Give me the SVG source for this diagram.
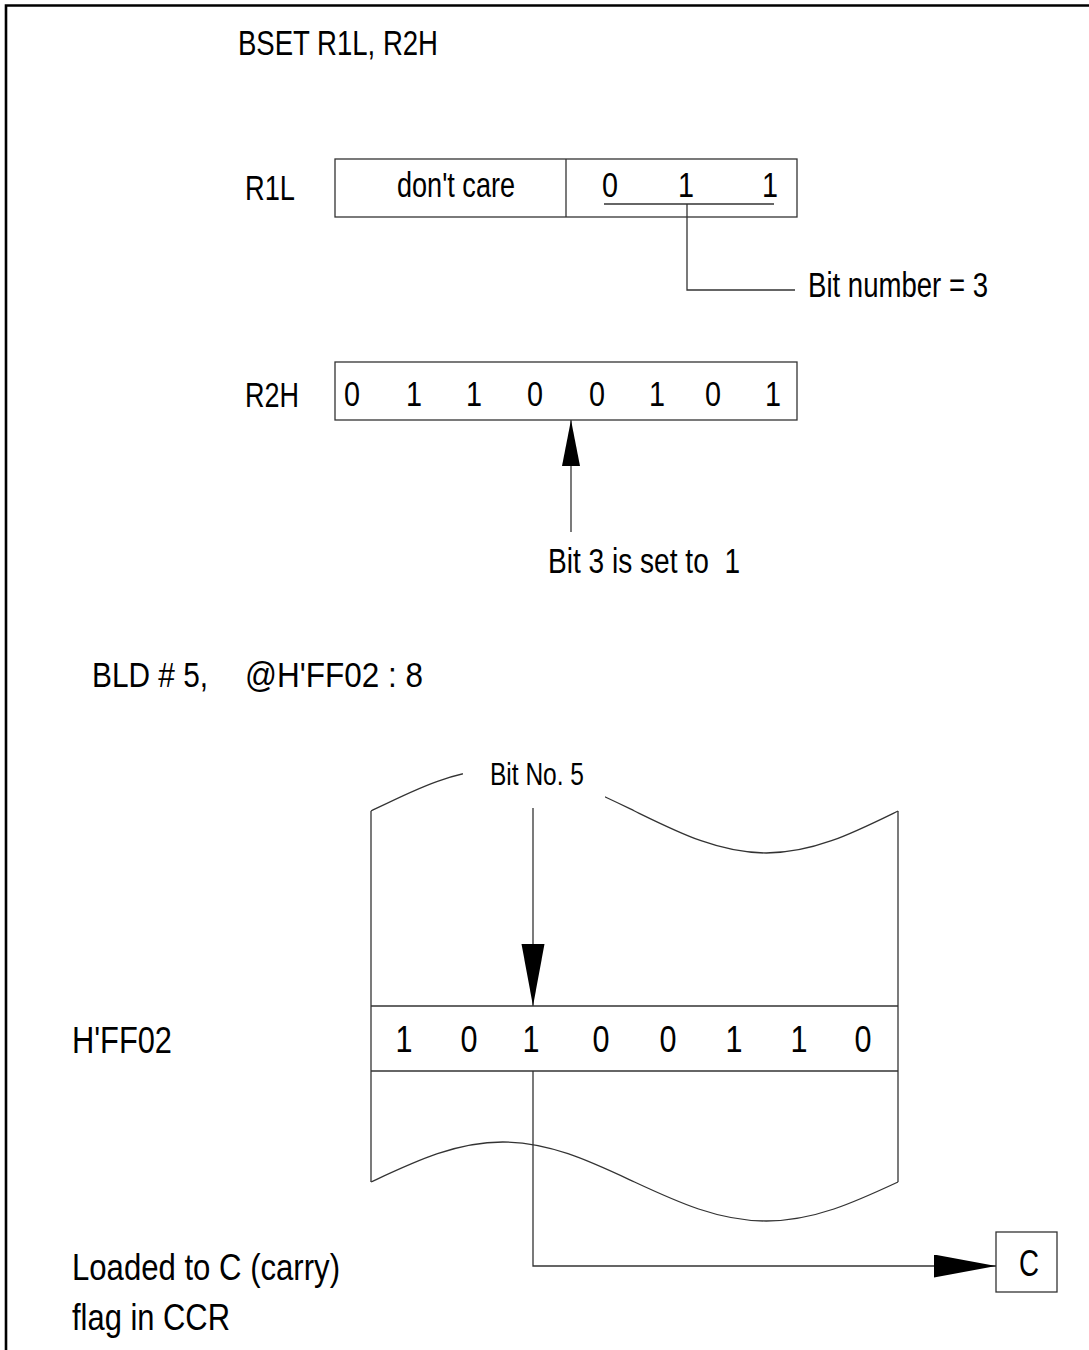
<svg xmlns="http://www.w3.org/2000/svg" width="1089" height="1350" viewBox="0 0 1089 1350">
<style>
text{font-family:"Liberation Sans",Arial,sans-serif;fill:#000;}
.t35{font-size:35px;}
.t37{font-size:37px;}
.t31{font-size:31px;}
.m{text-anchor:middle;}
.ln{fill:none;stroke:#333;stroke-width:1.3;}
.frame{fill:none;stroke:#000;stroke-width:2.6;}
</style>
<defs>
<marker id="ah" markerUnits="userSpaceOnUse" markerWidth="62" markerHeight="24" refX="62" refY="11.5" orient="auto">
<path d="M0,0 L62,11.5 L0,23 z" fill="#000"/>
</marker>
<marker id="ahs" markerUnits="userSpaceOnUse" markerWidth="46" markerHeight="20" refX="46" refY="9" orient="auto">
<path d="M0,0 L46,9 L0,18 z" fill="#000"/>
</marker>
<clipPath id="gapTop">
<rect x="300" y="700" width="163" height="400"/>
<rect x="605" y="700" width="350" height="400"/>
</clipPath>
</defs>
<rect width="1089" height="1350" fill="#fff"/>
<path class="frame" d="M6,1352 V5.5 H1089"/>

<g id="title-bset"><text class="t35" x="238" y="55" textLength="200" lengthAdjust="spacingAndGlyphs">BSET R1L, R2H</text></g>

<g id="r1l">
<text class="t35" x="245" y="200" textLength="50" lengthAdjust="spacingAndGlyphs">R1L</text>
<rect class="ln" x="335" y="159" width="462" height="58"/>
<line class="ln" x1="566" y1="159" x2="566" y2="217"/>
<text class="t35 m" x="456" y="197" textLength="118" lengthAdjust="spacingAndGlyphs">don't care</text>
<text class="t35 m" x="610" y="197" textLength="16" lengthAdjust="spacingAndGlyphs">0</text>
<text class="t35 m" x="686" y="197" textLength="16" lengthAdjust="spacingAndGlyphs">1</text>
<text class="t35 m" x="770" y="197" textLength="16" lengthAdjust="spacingAndGlyphs">1</text>
</g>

<g id="bit-number-label"><text class="t35" x="808" y="297" textLength="180" lengthAdjust="spacingAndGlyphs">Bit number = 3</text></g>

<g id="r2h">
<text class="t35" x="245" y="407" textLength="54" lengthAdjust="spacingAndGlyphs">R2H</text>
<rect class="ln" x="335" y="362" width="462" height="58"/>
<text class="t35 m" x="352" y="406" textLength="16" lengthAdjust="spacingAndGlyphs">0</text>
<text class="t35 m" x="414" y="406" textLength="16" lengthAdjust="spacingAndGlyphs">1</text>
<text class="t35 m" x="474" y="406" textLength="16" lengthAdjust="spacingAndGlyphs">1</text>
<text class="t35 m" x="535" y="406" textLength="16" lengthAdjust="spacingAndGlyphs">0</text>
<text class="t35 m" x="597" y="406" textLength="16" lengthAdjust="spacingAndGlyphs">0</text>
<text class="t35 m" x="657" y="406" textLength="16" lengthAdjust="spacingAndGlyphs">1</text>
<text class="t35 m" x="713" y="406" textLength="16" lengthAdjust="spacingAndGlyphs">0</text>
<text class="t35 m" x="773" y="406" textLength="16" lengthAdjust="spacingAndGlyphs">1</text>
</g>

<g id="bit3-label"><text class="t35" x="548" y="573" xml:space="preserve" textLength="192" lengthAdjust="spacingAndGlyphs">Bit 3 is set to  1</text></g>

<g id="title-bld"><text class="t35" x="92" y="687"><tspan textLength="116" lengthAdjust="spacingAndGlyphs">BLD # 5,</tspan><tspan x="245" textLength="178" lengthAdjust="spacingAndGlyphs">@H'FF02 : 8</tspan></text></g>

<g id="bitno5-label"><text class="t31" x="490" y="785" textLength="94" lengthAdjust="spacingAndGlyphs">Bit No. 5</text></g>

<g id="memory">
<path class="ln" clip-path="url(#gapTop)" d="M371,811 C413.97,790 455.06,769 502.75,769 C550.44,769 591.53,790 634.5,811 C677.47,832 718.56,853 766.25,853 C813.94,853 855.03,832 898,811"/>
<line class="ln" x1="371" y1="811" x2="371" y2="1182"/>
<line class="ln" x1="898" y1="811" x2="898" y2="1182"/>
<line class="ln" x1="371" y1="1006" x2="898" y2="1006"/>
<line class="ln" x1="371" y1="1071" x2="898" y2="1071"/>
<path class="ln" d="M371,1182 C413.97,1162 455.06,1142 502.75,1142 C550.44,1142 591.53,1162 634.5,1182 C677.47,1202 718.56,1221 766.25,1221 C813.94,1221 855.03,1202 898,1182"/>
<text class="t37" x="72" y="1053" textLength="100" lengthAdjust="spacingAndGlyphs">H'FF02</text>
<text class="t37 m" x="404" y="1052" textLength="17" lengthAdjust="spacingAndGlyphs">1</text>
<text class="t37 m" x="469" y="1052" textLength="17" lengthAdjust="spacingAndGlyphs">0</text>
<text class="t37 m" x="531" y="1052" textLength="17" lengthAdjust="spacingAndGlyphs">1</text>
<text class="t37 m" x="601" y="1052" textLength="17" lengthAdjust="spacingAndGlyphs">0</text>
<text class="t37 m" x="668" y="1052" textLength="17" lengthAdjust="spacingAndGlyphs">0</text>
<text class="t37 m" x="734" y="1052" textLength="17" lengthAdjust="spacingAndGlyphs">1</text>
<text class="t37 m" x="799" y="1052" textLength="17" lengthAdjust="spacingAndGlyphs">1</text>
<text class="t37 m" x="863" y="1052" textLength="17" lengthAdjust="spacingAndGlyphs">0</text>
</g>

<g id="carry">
<rect class="ln" x="996" y="1232" width="61" height="60"/>
<text class="t37 m" x="1029" y="1276" textLength="20" lengthAdjust="spacingAndGlyphs">C</text>
</g>

<g id="carry-label">
<text class="t37" x="72" y="1280" textLength="268" lengthAdjust="spacingAndGlyphs">Loaded to C (carry)</text>
<text class="t37" x="72" y="1330" textLength="158" lengthAdjust="spacingAndGlyphs">flag in CCR</text>
</g>

<g id="connectors">
<path class="ln" d="M604,204 H774"/>
<path class="ln" d="M687,204 V290 H795"/>
<line class="ln" x1="571" y1="532" x2="571" y2="420" marker-end="url(#ahs)"/>
<line class="ln" x1="533" y1="808" x2="533" y2="1006" marker-end="url(#ah)"/>
<path class="ln" d="M533,1071 V1266 H996" marker-end="url(#ah)"/>
</g>
</svg>
